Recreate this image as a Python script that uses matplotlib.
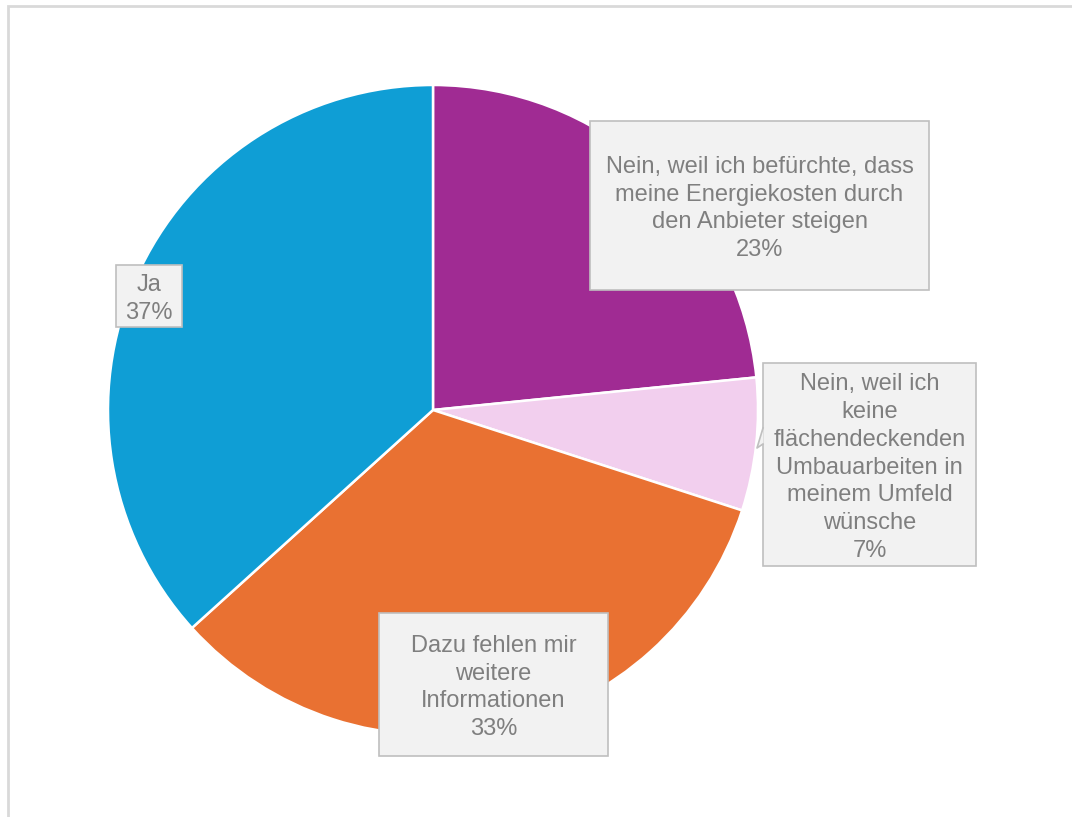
import matplotlib.pyplot as plt
from matplotlib.patches import Rectangle, Polygon

plt.rcParams['font.family'] = ['Liberation Sans', 'DejaVu Sans']

# data, clockwise from 12 o'clock
labels = ['Nein, weil ich befürchte, dass\nmeine Energiekosten durch\nden Anbieter steigen',
          'Nein, weil ich\nkeine\nflächendeckenden\nUmbauarbeiten in\nmeinem Umfeld\nwünsche',
          'Dazu fehlen mir\nweitere\nInformationen',
          'Ja']
values = [23.4, 6.6, 33.3, 36.7]
colors = ['#a02b93', '#f2cfee', '#e97132', '#0f9ed5']

H = 817
# label boxes in pixel coords (left, top, right, bottom)
boxes = [(590, 121, 929, 290), (763, 363, 976, 566), (379, 613, 608, 756), (116, 265, 182, 327)]

fig = plt.figure(figsize=(10.72, 8.17), dpi=100)
ax = fig.add_axes([0, 0, 1, 1])

ax.pie(values, colors=colors, startangle=90, counterclock=False,
       center=(433, H - 410), radius=325,
       wedgeprops=dict(edgecolor='white', linewidth=1.8))
ax.set_xlim(0, 1072)
ax.set_ylim(0, H)
ax.set_aspect('equal')
ax.axis('off')

tot = sum(values)
for lab, v, (l, t, r, b) in zip(labels, values, boxes):
    ax.add_patch(Rectangle((l, H - b), r - l, b - t, facecolor='#f2f2f2',
                           edgecolor='#bfbfbf', linewidth=1.2, zorder=5))
    ax.text((l + r) / 2, H - (t + b) / 2 - 3, '%s\n%d%%' % (lab, round(v / tot * 100)),
            ha='center', va='center', fontsize=17, color='#7f7f7f',
            linespacing=1.34, zorder=6)

# little callout notch on the 7% box
ax.add_patch(Polygon([(763.6, H - 428), (757, H - 448), (763.6, H - 444)], closed=True,
                     facecolor='#f2f2f2', edgecolor='none', zorder=6))
ax.plot([763, 757, 763], [H - 428, H - 448, H - 444], color='#bfbfbf', lw=1.2, zorder=6)

# chart area border
ax.add_patch(Rectangle((8, -20), 1100, H - 6 + 20, facecolor='none',
                       edgecolor='#d9d9d9', linewidth=2, clip_on=False, zorder=1))

fig.savefig('out.png', dpi=100)
